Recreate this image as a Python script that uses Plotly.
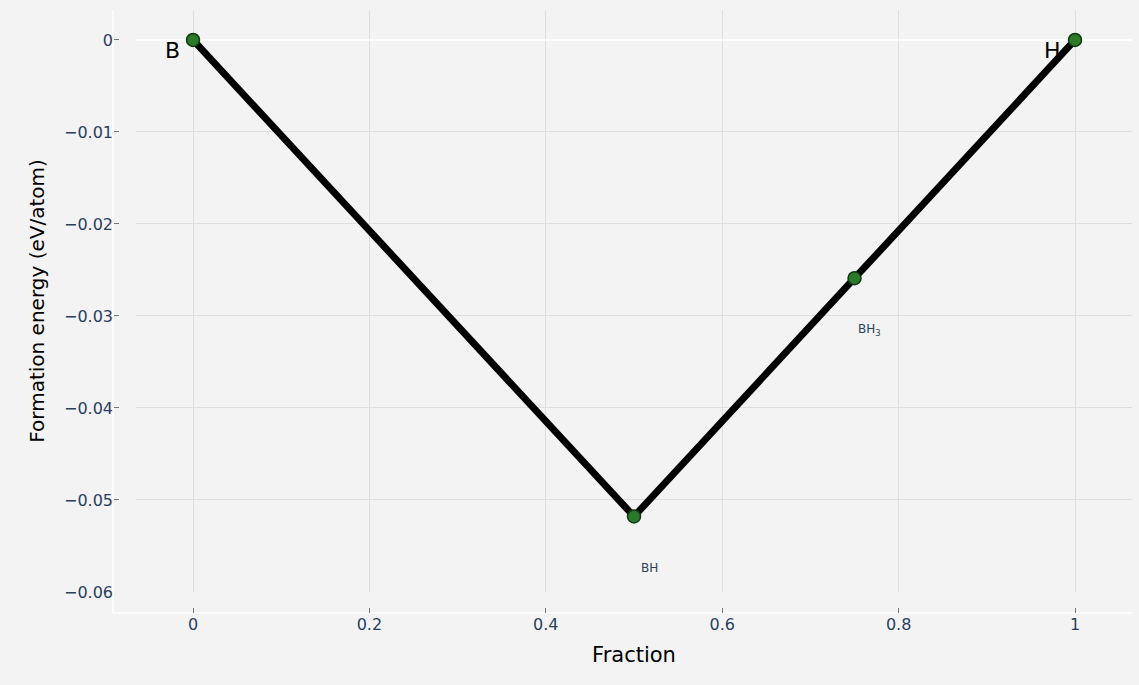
import plotly.graph_objects as go

# Convex hull of the B–H system
fraction = [0, 0.5, 0.75, 1]
formation_energy = [0, -0.0518, -0.0259, 0]

end_names = ["B", "H"]
end_fraction = [0, 1]
end_energy = [0, 0]

phase_names = ["BH", "BH<sub>3</sub>"]
phase_fraction = [0.5, 0.75]
phase_energy = [-0.0518, -0.0259]

y_ticks = [0, -0.01, -0.02, -0.03, -0.04, -0.05, -0.06]
x_ticks = [0, 0.2, 0.4, 0.6, 0.8, 1]

FONT = "DejaVu Sans, Verdana, sans-serif"
bg = "#f3f3f3"
grid = "#dedede"
tick_font = dict(family=FONT, size=16, color="#2a3f5f")

fig = go.Figure()

fig.add_trace(go.Scatter(
    x=fraction,
    y=formation_energy,
    mode="lines+markers",
    line=dict(color="black", width=7),
    marker=dict(size=13, color="#2a7a2a", line=dict(color="#0f3a0f", width=1.5)),
    showlegend=False,
    hoverinfo="x+y",
))

# element labels at the two ends of the hull
for name, fx, fy, dx in zip(end_names, end_fraction, end_energy, [-21, -23]):
    fig.add_annotation(
        x=fx, y=fy, text=name, showarrow=False,
        xshift=dx, yshift=-11,
        font=dict(family=FONT, size=22, color="black"),
    )

# compound labels below the stable phases
for name, fx, fy in zip(phase_names, phase_fraction, phase_energy):
    fig.add_annotation(
        x=fx, y=fy, text=name, showarrow=False,
        xshift=15, yshift=-52,
        font=dict(family=FONT, size=12, color="#2a3f5f"),
    )

# axis lines offset from the plotting region
fig.add_shape(type="line", xref="paper", yref="paper", x0=0, x1=1, y0=0, y1=0,
              line=dict(color="white", width=1.5), layer="below")
fig.add_shape(type="line", xref="paper", yref="paper", x0=0, x1=0, y0=0, y1=1,
              line=dict(color="white", width=1.5), layer="below")

fig.update_layout(
    width=1139,
    height=685,
    margin=dict(l=113, r=7, t=10, b=72),
    paper_bgcolor=bg,
    plot_bgcolor=bg,
    font=dict(family=FONT, color="#2a3f5f"),
    xaxis=dict(
        domain=[0.0226, 1],
        anchor="free",
        position=0,
        range=[-0.0646, 1.0646],
        tickvals=x_ticks,
        ticktext=["0", "0.2", "0.4", "0.6", "0.8", "1"],
        ticks="inside",
        ticklen=5,
        tickcolor="#777777",
        tickfont=tick_font,
        showgrid=True,
        gridcolor=grid,
        zeroline=False,
        showline=False,
        title=dict(text="Fraction", font=dict(family=FONT, size=21, color="black"), standoff=14),
    ),
    yaxis=dict(
        domain=[0.035, 1],
        anchor="free",
        position=0,
        range=[-0.06, 0.00326],
        tickvals=y_ticks,
        ticktext=["0", "\u22120.01", "\u22120.02", "\u22120.03", "\u22120.04", "\u22120.05", "\u22120.06"],
        ticks="inside",
        ticklen=5,
        tickcolor="#777777",
        tickfont=tick_font,
        showgrid=True,
        gridcolor=grid,
        zeroline=True,
        zerolinecolor="white",
        zerolinewidth=2,
        showline=False,
        title=dict(text="Formation energy (eV/atom)", font=dict(family=FONT, size=20, color="black"), standoff=12),
    ),
)

fig.write_html("out.html")
